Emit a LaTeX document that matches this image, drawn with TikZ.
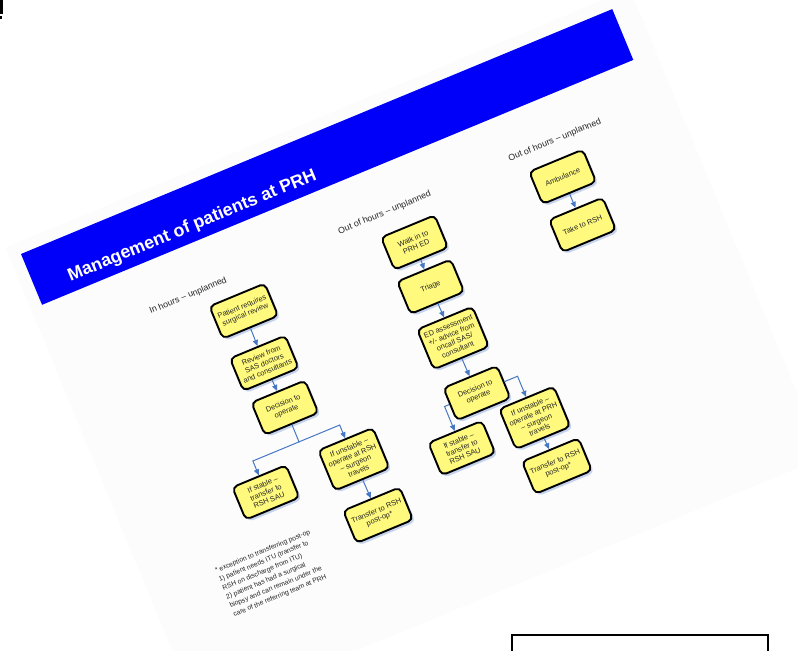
\documentclass[tikz,border=0pt]{standalone}
\usepackage{fontspec}
\setmainfont{Liberation Sans}
\usetikzlibrary{arrows.meta,shadows}
\definecolor{boxyellow}{RGB}{255,250,125}
\definecolor{glowblue}{RGB}{175,195,230}
\definecolor{flowblue}{RGB}{70,120,195}
\definecolor{bannerblue}{RGB}{0,0,250}
\definecolor{slidegray}{RGB}{252,252,252}
\definecolor{inkgray}{RGB}{35,35,35}

\begin{document}
\begin{tikzpicture}[x=0.5pt,y=-0.5pt,
    stepbox/.style={shape=rectangle,rounded corners=2.5pt,draw=black,line width=0.95pt,
      fill=boxyellow,text=inkgray,align=center,font=\fontsize{3.7}{4.2}\selectfont,
      inner xsep=2pt,inner ysep=3.2pt,minimum width=29pt,minimum height=17.5pt,
      drop shadow={shadow xshift=1.2pt,shadow yshift=-1.2pt,fill=glowblue,opacity=0.7}},
    flow/.style={draw=flowblue,line width=0.5pt,-{Triangle[length=3pt,width=2.6pt]}},
    heading/.style={anchor=base west,text=inkgray,font=\fontsize{4.4}{5}\selectfont}]
    \useasboundingbox (0,0) rectangle (798,651);
    \clip (0,0) rectangle (798,651);
    \fill (0,0) rectangle (3,14);
    \fill (0,16) rectangle (2,19);

    \begin{scope}[shift={(21,254)},rotate=22.5,transform shape]
    \fill[slidegray] (-12,-12) rectangle (664,495);
    \fill[bannerblue] (0,0) rectangle (640,55);
    \node[anchor=base west,inner sep=0,text=white,font=\bfseries\fontsize{8.9}{10}\selectfont] (T) at (35,44.5) {Management of patients at PRH};

    % in hours
    \node[heading] (H1) at (90,105) {In hours – unplanned};
    \node[stepbox] (A1) at (184,138) {Patient requires\\surgical review};
    \node[stepbox] (A2) at (183,194) {Review from\\SAS doctors\\and consultants};
    \node[stepbox] (A3) at (185,243) {Decision to\\operate};
    \node[stepbox] (A4) at (135,314) {If stable –\\transfer to\\RSH SAU};
    \node[stepbox] (A5) at (229,317) {If unstable –\\operate at RSH\\– surgeon\\travels};
    \node[stepbox] (A6) at (230,378) {Transfer to RSH\\post-op*};
    \coordinate (J1) at (185,280);
    \coordinate (J2) at (135,280);
    \coordinate (J3) at (229,280);
    \path (A1) edge[flow] (A2);
    \path (A2) edge[flow] (A3);
    \draw[flow] (A3.south) -- (J1) -- (J2) -- (A4.north);
    \draw[flow] (J1) -- (J3) -- (A5.north);
    \path (A5) edge[flow] (A6);

    % out of hours, walk in
    \node[heading] (H2) at (295,103.5) {Out of hours – unplanned};
    \node[stepbox] (B1) at (368,140) {Walk in to\\PRH ED};
    \node[stepbox] (B2) at (366,187) {Triage};
    \node[stepbox] (B3) at (367,243) {ED assessment\\+/- advice from\\oncall SAS/\\consultant};
    \node[stepbox] (B4) at (368,303) {Decision to\\operate};
    \node[stepbox] (B5) at (333,348) {If stable –\\transfer to\\RSH SAU};
    \node[stepbox] (B6) at (412,348) {If unstable –\\operate at PRH\\– surgeon\\travels};
    \node[stepbox] (B7) at (414,401) {Transfer to RSH\\post-op*};
    \coordinate (K1) at (333,303);
    \coordinate (K2) at (412,303);
    \path (B1) edge[flow] (B2);
    \path (B2) edge[flow] (B3);
    \path (B3) edge[flow] (B4);
    \draw[flow] (B4.west) -- (K1) -- (B5.north);
    \draw[flow] (B4.east) -- (K2) -- (B6.north);
    \path (B6) edge[flow] (B7);

    % out of hours, ambulance
    \node[heading] (H3) at (480,101.5) {Out of hours – unplanned};
    \node[stepbox] (C1) at (530,136) {Ambulance};
    \node[stepbox] (C2) at (530,188) {Take to RSH};
    \path (C1) edge[flow] (C2);

    \node[anchor=north west,align=left,inner sep=0,text=inkgray,font=\fontsize{3.4}{4.75}\selectfont] (N) at (58,364) {* exception to transferring post-op\\1) patient needs ITU (transfer to\\RSH on discharge from ITU)\\2) patient has had a surgical\\biopsy and can remain under the\\care of the referring team at PRH};
    \end{scope}

    \draw[line width=1pt,fill=white] (512,635) rectangle (768,660);
\end{tikzpicture}
\end{document}
